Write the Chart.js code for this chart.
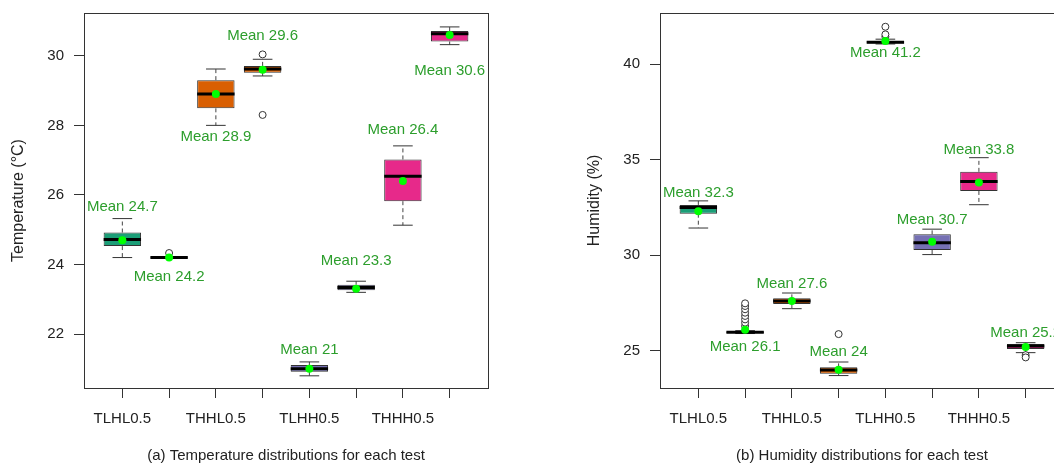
<!DOCTYPE html>
<html>
<head>
<meta charset="utf-8">
<script src="https://cdn.jsdelivr.net/npm/chart.js@4.4.1/dist/chart.umd.min.js"></script>
<style>
  html, body { margin: 0; padding: 0; background: #fff; overflow: hidden; width: 1054px; height: 465px; }
  #tempChart { position: absolute; left: 0; top: 0; }
  #humChart { position: absolute; left: 527px; top: 0; }
</style>
</head>
<body>
<canvas id="tempChart" width="527" height="465"></canvas>
<canvas id="humChart" width="560" height="465"></canvas>
<script>
// Box positions and axis labels (shared by both panels)
const boxPos = [1, 2, 3, 4, 5, 6, 7, 8];
const xTickValues = [1, 2, 3, 4, 5, 6, 7, 8];
const xTickLabels = ['TLHL0.5', '', 'THHL0.5', '', 'TLHH0.5', '', 'THHH0.5', ''];

// Panel (a): temperature
const tempLo   = [24.20, 24.19, 28.00, 29.42, 20.80, 23.20, 25.13, 30.32];
const tempQ1   = [24.53, 24.19, 28.49, 29.51, 20.92, 23.26, 25.82, 30.41];
const tempMed  = [24.72, 24.20, 28.90, 29.62, 21.00, 23.34, 26.54, 30.63];
const tempQ3   = [24.92, 24.21, 29.30, 29.71, 21.11, 23.42, 27.02, 30.71];
const tempHi   = [25.32, 24.21, 29.62, 29.90, 21.20, 23.52, 27.41, 30.83];
const tempMean = [24.7, 24.2, 28.9, 29.6, 21.0, 23.3, 26.4, 30.6];
const tempOutX = [2, 4, 4];
const tempOutY = [24.33, 30.04, 28.30];
const tempLabelAt = [25.65, 23.65, 27.66, 30.58, 21.56, 24.10, 27.87, 29.57];
const tempTicks = [22, 24, 26, 28, 30];

// Panel (b): humidity
const humLo   = [31.42, 25.90, 27.20, 23.70, 41.05, 30.03, 32.64, 24.90];
const humQ1   = [32.17, 25.93, 27.44, 23.80, 41.08, 30.27, 33.36, 25.09];
const humMed  = [32.49, 25.97, 27.60, 23.99, 41.14, 30.65, 33.86, 25.25];
const humQ3   = [32.63, 26.00, 27.74, 24.13, 41.20, 31.09, 34.36, 25.35];
const humHi   = [32.84, 26.05, 28.02, 24.41, 41.30, 31.36, 35.10, 25.42];
const humMean = [32.3, 26.1, 27.6, 24.0, 41.2, 30.7, 33.8, 25.2];
const humOutX = [2, 2, 2, 2, 2, 2, 2, 2, 4, 5, 5, 5, 8, 8];
const humOutY = [26.29, 26.47, 26.64, 26.82, 26.99, 27.17, 27.34, 27.48, 25.87, 41.43, 41.55, 41.95, 24.77, 24.65];
const humLabelAt = [33.26, 25.21, 28.49, 24.92, 40.56, 31.83, 35.52, 25.91];
const humTicks = [25, 30, 35, 40];

const boxFill = ['#1B9E77', '#1B9E77', '#D95F02', '#D95F02', '#7570B3', '#7570B3', '#E7298A', '#E7298A'];
const fontFamily = '"Liberation Sans", Arial, sans-serif';

Chart.defaults.font.family = fontFamily;
Chart.defaults.font.size = 15;
Chart.defaults.color = '#222';

// Half a box width in pixels, measured on the x scale
function halfWidth(chart, units) {
  const x = chart.scales.x;
  return Math.abs(x.getPixelForValue(1 + units) - x.getPixelForValue(1));
}

// Dashed whiskers: one segment above and one below each box, split by nulls
function whiskerPoints(q1, q3, lo, hi) {
  const pts = [];
  boxPos.forEach((p, i) => {
    pts.push({ x: p, y: q3[i] }, { x: p, y: hi[i] }, { x: p, y: null });
    pts.push({ x: p, y: q1[i] }, { x: p, y: lo[i] }, { x: p, y: null });
  });
  return pts;
}

// Plot frame and "Mean" labels
const framePlugin = {
  id: 'frame',
  afterDatasetsDraw(chart, args, opts) {
    const { ctx, chartArea: a, scales: { x, y } } = chart;
    ctx.save();
    ctx.strokeStyle = '#333';
    ctx.lineWidth = 1;
    ctx.strokeRect(Math.round(a.left) + 0.5, Math.round(a.top) + 0.5,
                   Math.round(a.right - a.left), Math.round(a.bottom - a.top));
    ctx.fillStyle = '#2C9E2C';
    ctx.font = '15px ' + fontFamily;
    ctx.textAlign = 'center';
    ctx.textBaseline = 'middle';
    opts.means.forEach((m, i) => {
      const txt = 'Mean ' + (Math.round(m * 10) / 10);
      ctx.fillText(txt, x.getPixelForValue(boxPos[i]), y.getPixelForValue(opts.labelAt[i]));
    });
    ctx.restore();
  }
};

function crearBoxplot(id, d) {
  const ctx = document.getElementById(id);
  return new Chart(ctx, {
    type: 'bar',
    data: {
      datasets: [
        {
          type: 'line',
          data: whiskerPoints(d.q1, d.q3, d.lo, d.hi),
          borderColor: '#444',
          borderWidth: 1,
          borderDash: [4, 3],
          pointRadius: 0,
          spanGaps: false,
          order: 6
        },
        {
          type: 'bar',
          data: boxPos.map((p, i) => ({ x: p, y: [d.q1[i], d.q3[i]] })),
          backgroundColor: boxFill,
          borderColor: '#333',
          borderWidth: 1,
          borderSkipped: false,
          categoryPercentage: 1,
          barPercentage: 0.8,
          order: 5
        },
        {
          type: 'line',
          showLine: false,
          data: boxPos.map((p, i) => ({ x: p, y: d.lo[i] })).concat(boxPos.map((p, i) => ({ x: p, y: d.hi[i] }))),
          pointStyle: 'line',
          pointRadius: c => halfWidth(c.chart, 0.21),
          pointBorderWidth: 1,
          pointBorderColor: '#333',
          order: 4
        },
        {
          type: 'line',
          showLine: false,
          data: boxPos.map((p, i) => ({ x: p, y: d.med[i] })),
          pointStyle: 'line',
          pointRadius: c => halfWidth(c.chart, 0.4),
          pointBorderWidth: 3,
          pointBorderColor: '#000',
          order: 3
        },
        {
          type: 'line',
          showLine: false,
          data: d.outX.map((p, i) => ({ x: p, y: d.outY[i] })),
          pointStyle: 'circle',
          pointRadius: 3.5,
          pointBackgroundColor: '#fff',
          pointBorderColor: '#333',
          pointBorderWidth: 1,
          order: 2
        },
        {
          type: 'line',
          showLine: false,
          data: boxPos.map((p, i) => ({ x: p, y: d.mean[i] })),
          pointRadius: 4,
          pointBackgroundColor: '#00FF00',
          pointBorderWidth: 0,
          order: 1
        }
      ]
    },
    options: {
      responsive: false,
      animation: false,
      events: [],
      layout: { padding: d.padding },
      plugins: {
        legend: { display: false },
        tooltip: { enabled: false },
        frame: { means: d.mean, labelAt: d.labelAt }
      },
      scales: {
        x: {
          type: 'linear',
          min: 0.18,
          max: 8.82,
          offset: false,
          afterBuildTicks: s => { s.ticks = xTickValues.map(v => ({ value: v })); },
          afterFit: s => { s.height = 77; s.paddingLeft = 0; s.paddingRight = 0; },
          ticks: {
            autoSkip: false,
            maxRotation: 0,
            padding: 12,
            color: '#222',
            callback: v => xTickLabels[v - 1] || ''
          },
          grid: { drawOnChartArea: false, tickLength: 10, tickColor: '#333', offset: false },
          border: { display: false },
          title: { display: true, text: d.xTitle, color: '#222', padding: { top: 0, bottom: 0 } }
        },
        y: {
          type: 'linear',
          min: d.yMin,
          max: d.yMax,
          afterBuildTicks: s => { s.ticks = d.yTicks.map(v => ({ value: v })); },
          afterFit: s => { s.width = 84; s.paddingTop = 0; s.paddingBottom = 0; },
          ticks: { padding: 10, color: '#222' },
          grid: { drawOnChartArea: false, tickLength: 10, tickColor: '#333' },
          border: { display: false },
          title: { display: true, text: d.yTitle, color: '#222', font: { size: 16 }, padding: { top: 9, bottom: 0 } }
        }
      }
    },
    plugins: [framePlugin]
  });
}

crearBoxplot('tempChart', {
  lo: tempLo, q1: tempQ1, med: tempMed, q3: tempQ3, hi: tempHi, mean: tempMean,
  outX: tempOutX, outY: tempOutY, labelAt: tempLabelAt, yTicks: tempTicks,
  yMin: 20.45, yMax: 31.23,
  yTitle: 'Temperature (°C)',
  xTitle: '(a) Temperature distributions for each test',
  padding: { left: 0, right: 39, top: 13, bottom: 0 }
});

crearBoxplot('humChart', {
  lo: humLo, q1: humQ1, med: humMed, q3: humQ3, hi: humHi, mean: humMean,
  outX: humOutX, outY: humOutY, labelAt: humLabelAt, yTicks: humTicks,
  yMin: 23.05, yMax: 42.67,
  yTitle: 'Humidity (%)',
  xTitle: '(b) Humidity distributions for each test',
  padding: { left: 49, right: 23, top: 13, bottom: 0 }
});
</script>
</body>
</html>
